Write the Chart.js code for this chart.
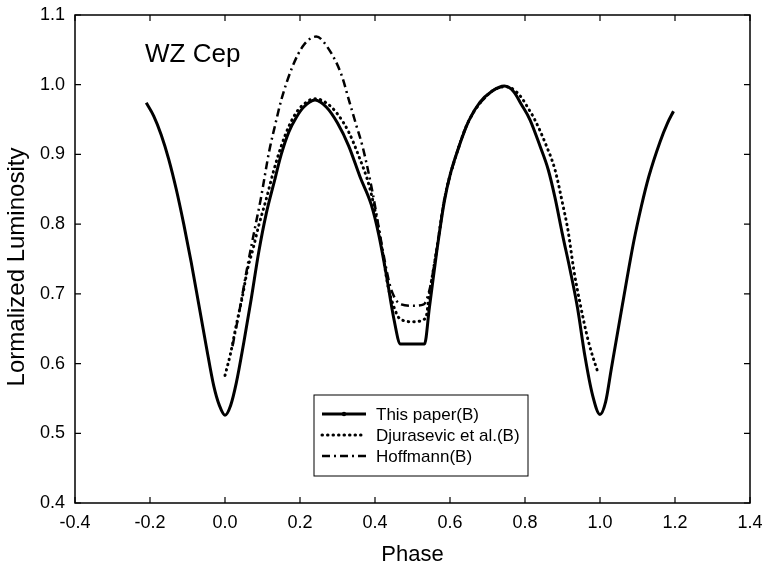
<!DOCTYPE html>
<html>
<head>
<meta charset="utf-8">
<script src="https://cdn.jsdelivr.net/npm/chart.js@4.4.0/dist/chart.umd.min.js"></script>
<style>
  html, body { margin: 0; padding: 0; background: #fff; }
  #wrap { width: 765px; height: 568px; }
</style>
</head>
<body>
<div id="wrap"><canvas id="lc" width="765" height="568"></canvas></div>
<script>
// light curve data (phase, normalized luminosity)
const thisPaperPhase = [-0.21, -0.19, -0.17, -0.15, -0.13, -0.11, -0.09, -0.07, -0.05, -0.03, -0.015, 0.0,
  0.015, 0.03, 0.05, 0.07, 0.09, 0.11, 0.13, 0.15, 0.17, 0.19, 0.21, 0.24,
  0.27, 0.30, 0.33, 0.36, 0.39, 0.41, 0.43, 0.45, 0.468, 0.532,
  0.545, 0.565, 0.585, 0.60, 0.62, 0.65, 0.68, 0.71, 0.745,
  0.77, 0.79, 0.813, 0.84, 0.862, 0.88, 0.90, 0.92, 0.94, 0.96, 0.98, 1.0,
  1.015, 1.03, 1.06, 1.09, 1.11, 1.13, 1.16, 1.18, 1.196];
const thisPaperLum = [0.974, 0.955, 0.928, 0.893, 0.850, 0.800, 0.745, 0.685, 0.625, 0.568, 0.540, 0.526,
  0.540, 0.572, 0.630, 0.693, 0.760, 0.815, 0.858, 0.900, 0.932, 0.953, 0.968, 0.978,
  0.968, 0.945, 0.912, 0.868, 0.828, 0.785, 0.728, 0.665, 0.628, 0.628,
  0.680, 0.762, 0.833, 0.870, 0.905, 0.948, 0.975, 0.990, 0.998,
  0.990, 0.972, 0.950, 0.912, 0.878, 0.838, 0.785, 0.735, 0.680, 0.610, 0.555, 0.527,
  0.545, 0.592, 0.685, 0.775, 0.825, 0.868, 0.918, 0.945, 0.962];

const djuraPhase = [0.0, 0.015, 0.03, 0.046, 0.06, 0.075, 0.09, 0.11, 0.13, 0.15, 0.17, 0.19, 0.21, 0.24,
  0.27, 0.30, 0.33, 0.355, 0.385, 0.405, 0.42, 0.435, 0.45, 0.465, 0.50, 0.535,
  0.545, 0.565, 0.585, 0.62, 0.65, 0.71, 0.75,
  0.77, 0.79, 0.81, 0.826, 0.855, 0.88, 0.90, 0.915, 0.93, 0.947, 0.97, 0.995];
const djuraLum = [0.583, 0.615, 0.655, 0.695, 0.735, 0.765, 0.798, 0.836, 0.877, 0.912, 0.940, 0.960, 0.972, 0.980,
  0.974, 0.958, 0.932, 0.900, 0.854, 0.806, 0.760, 0.710, 0.682, 0.665, 0.660, 0.665,
  0.700, 0.765, 0.835, 0.905, 0.948, 0.990, 0.997,
  0.993, 0.982, 0.965, 0.950, 0.915, 0.878, 0.830, 0.790, 0.735, 0.686, 0.630, 0.586];

const hoffPhase = [0.02, 0.04, 0.06, 0.08, 0.095, 0.118, 0.135, 0.15, 0.18, 0.21, 0.243,
  0.278, 0.31, 0.332, 0.35, 0.367, 0.394, 0.41, 0.425, 0.44, 0.455, 0.47, 0.50, 0.53,
  0.545, 0.565, 0.585, 0.62, 0.65, 0.71, 0.745];
const hoffLum = [0.625, 0.680, 0.740, 0.795, 0.835, 0.905, 0.945, 0.978, 1.026, 1.057, 1.069,
  1.050, 1.015, 0.975, 0.942, 0.911, 0.844, 0.795, 0.750, 0.712, 0.692, 0.685, 0.683, 0.685,
  0.705, 0.765, 0.835, 0.905, 0.948, 0.990, 0.998];

const seriesNames = ['This paper(B)', 'Djurasevic et al.(B)', 'Hoffmann(B)'];
const xTickValues = [-0.4, -0.2, 0.0, 0.2, 0.4, 0.6, 0.8, 1.0, 1.2, 1.4];
const yTickValues = [0.4, 0.5, 0.6, 0.7, 0.8, 0.9, 1.0, 1.1];

const FONT = "'Liberation Sans', Arial, Helvetica, sans-serif";

function toPoints(xs, ys) {
    return xs.map((x, i) => ({ x: x, y: ys[i] }));
}

// frame, inward ticks, axis title, star name and the boxed legend
const framePlugin = {
    id: 'frame',
    afterDraw(chart) {
        const ctx = chart.ctx;
        const area = chart.chartArea;
        const xs = chart.scales.x;
        const ys = chart.scales.y;
        ctx.save();
        ctx.strokeStyle = '#000';
        ctx.lineWidth = 1.5;
        ctx.strokeRect(area.left, area.top, area.right - area.left, area.bottom - area.top);

        ctx.lineWidth = 1.2;
        ctx.beginPath();
        xTickValues.forEach(v => {
            const px = xs.getPixelForValue(v);
            ctx.moveTo(px, area.bottom); ctx.lineTo(px, area.bottom - 6);
            ctx.moveTo(px, area.top); ctx.lineTo(px, area.top + 6);
        });
        yTickValues.forEach(v => {
            const py = ys.getPixelForValue(v);
            ctx.moveTo(area.left, py); ctx.lineTo(area.left + 6, py);
            ctx.moveTo(area.right, py); ctx.lineTo(area.right - 6, py);
        });
        ctx.stroke();

        ctx.fillStyle = '#000';

        // y axis title, sits a little below the plot centre in the original
        ctx.save();
        ctx.translate(17, 267);
        ctx.rotate(-Math.PI / 2);
        ctx.font = '24px ' + FONT;
        ctx.textAlign = 'center';
        ctx.textBaseline = 'middle';
        ctx.fillText('Lormalized Luminosity', 0, 0);
        ctx.restore();

        // star label
        ctx.font = '26px ' + FONT;
        ctx.textBaseline = 'alphabetic';
        ctx.textAlign = 'left';
        ctx.fillText('WZ Cep', area.left + 70, 62);

        // legend box
        const bx = area.left + 239, by = 395, bw = 214, bh = 81;
        ctx.lineWidth = 1;
        ctx.strokeRect(bx, by, bw, bh);
        ctx.font = '17px ' + FONT;
        ctx.textBaseline = 'middle';
        chart.data.datasets.forEach((ds, i) => {
            const ly = by + 19 + i * 21;
            ctx.save();
            ctx.strokeStyle = '#000';
            ctx.lineWidth = ds.borderWidth;
            ctx.lineCap = ds.borderCapStyle || 'butt';
            ctx.setLineDash(ds.borderDash || []);
            ctx.beginPath();
            ctx.moveTo(bx + 8, ly);
            ctx.lineTo(bx + 52, ly);
            ctx.stroke();
            if (i === 0) {
                ctx.beginPath();
                ctx.arc(bx + 30, ly, 2.2, 0, Math.PI * 2);
                ctx.fill();
            }
            ctx.restore();
            ctx.fillText(ds.label, bx + 62, ly + 1);
        });
        ctx.restore();
    }
};

new Chart(document.getElementById('lc'), {
    type: 'scatter',
    data: {
        datasets: [
            {
                label: seriesNames[0],
                data: toPoints(thisPaperPhase, thisPaperLum),
                showLine: true,
                borderColor: '#000',
                borderWidth: 3,
                pointRadius: 0,
                cubicInterpolationMode: 'monotone'
            },
            {
                label: seriesNames[1],
                data: toPoints(djuraPhase, djuraLum),
                showLine: true,
                borderColor: '#000',
                borderWidth: 3,
                borderDash: [0.5, 5],
                borderCapStyle: 'round',
                pointRadius: 0,
                cubicInterpolationMode: 'monotone'
            },
            {
                label: seriesNames[2],
                data: toPoints(hoffPhase, hoffLum),
                showLine: true,
                borderColor: '#000',
                borderWidth: 2.5,
                borderDash: [8, 4, 2, 4],
                pointRadius: 0,
                cubicInterpolationMode: 'monotone'
            }
        ]
    },
    options: {
        responsive: false,
        animation: false,
        layout: { padding: { top: 15, right: 15, left: 0, bottom: 0 } },
        plugins: {
            legend: { display: false },
            tooltip: { enabled: false }
        },
        scales: {
            x: {
                type: 'linear',
                min: -0.4,
                max: 1.4,
                afterFit: scale => {
                    scale.height = 65;
                    scale.paddingLeft = 0;
                    scale.paddingRight = 0;
                },
                afterBuildTicks: scale => { scale.ticks = xTickValues.map(v => ({ value: v })); },
                grid: { display: false, drawTicks: false },
                border: { display: false },
                ticks: {
                    color: '#000',
                    padding: 9,
                    font: { family: FONT, size: 18 },
                    callback: v => v.toFixed(1)
                },
                title: {
                    display: true,
                    text: 'Phase',
                    color: '#000',
                    font: { family: FONT, size: 22 },
                    padding: { top: 0, bottom: 0 }
                }
            },
            y: {
                type: 'linear',
                min: 0.4,
                max: 1.1,
                afterFit: scale => {
                    scale.width = 75;
                    scale.paddingTop = 0;
                    scale.paddingBottom = 0;
                },
                afterBuildTicks: scale => { scale.ticks = yTickValues.map(v => ({ value: v })); },
                grid: { display: false, drawTicks: false },
                border: { display: false },
                ticks: {
                    color: '#000',
                    padding: 10,
                    font: { family: FONT, size: 18 },
                    callback: v => v.toFixed(1)
                },
                title: { display: false }
            }
        }
    },
    plugins: [framePlugin]
});
</script>
</body>
</html>
